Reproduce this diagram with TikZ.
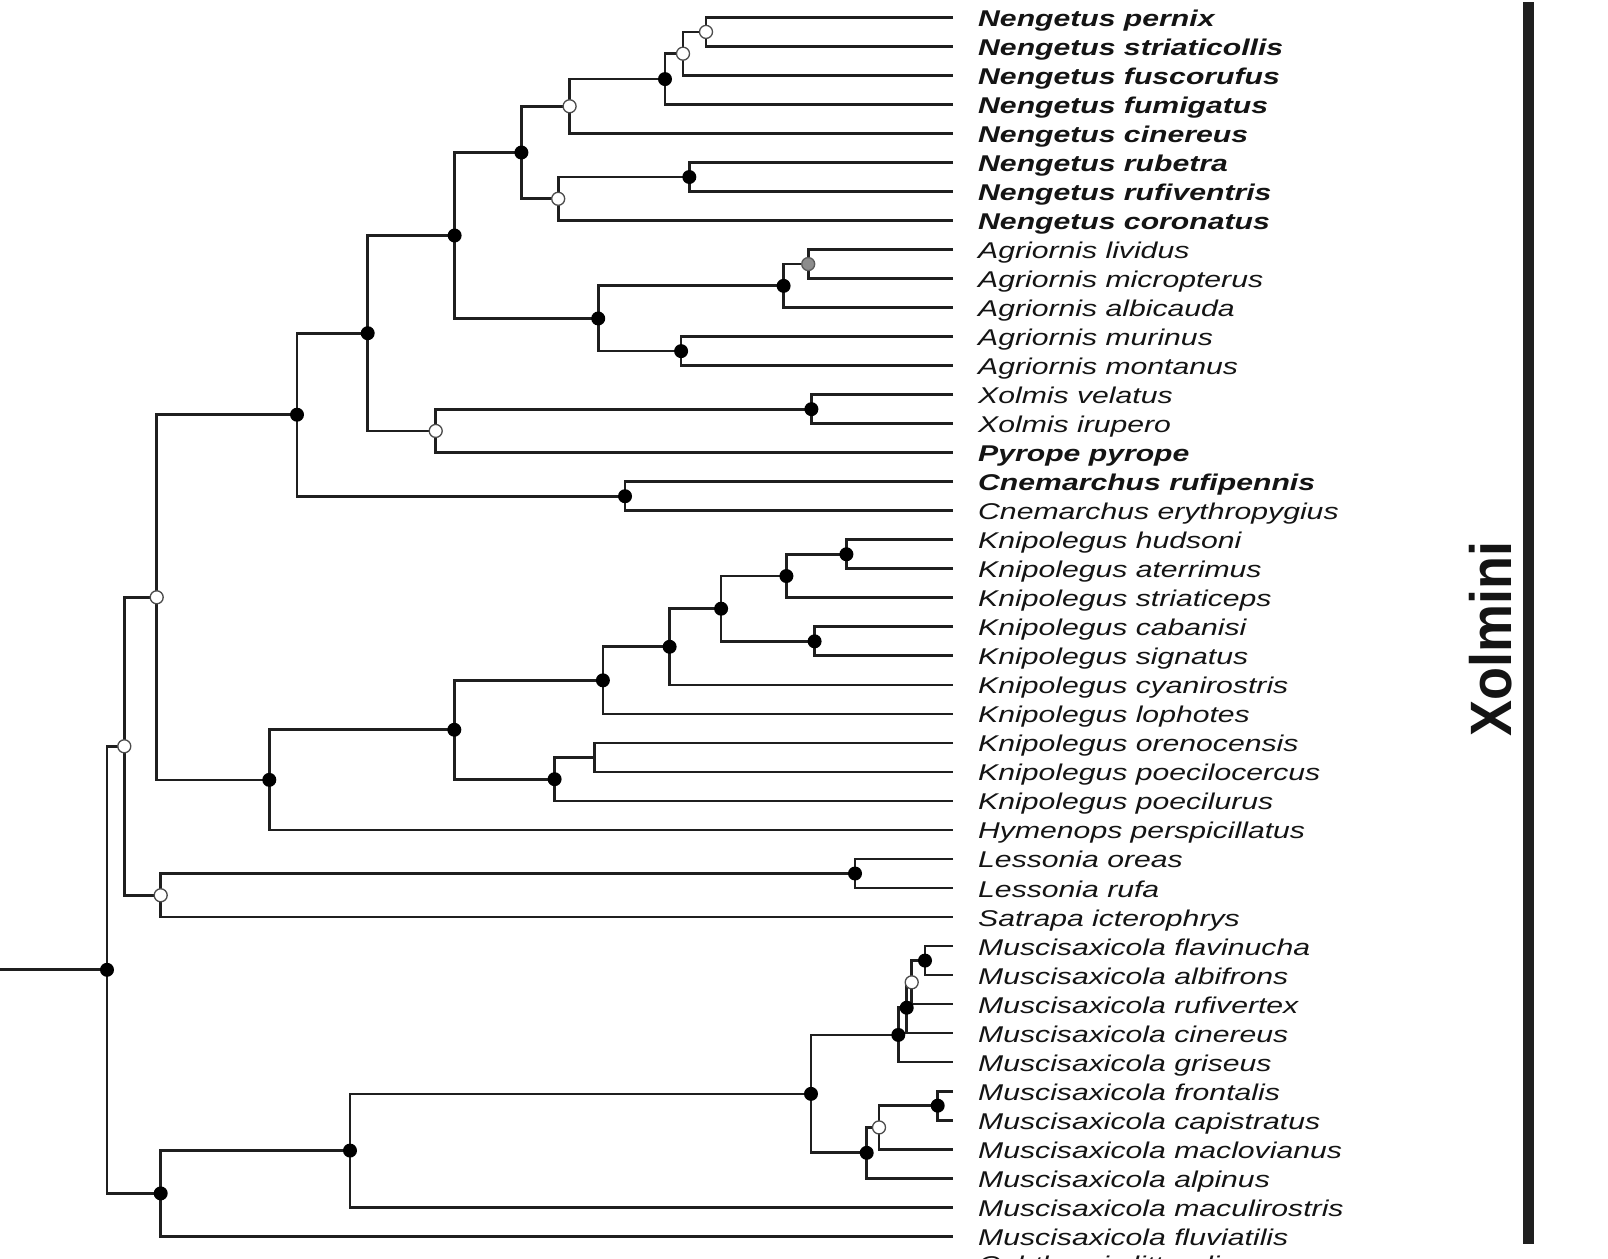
\documentclass[tikz,border=0pt]{standalone}
\usepackage{fontspec}
\setmainfont{Liberation Sans}
\usepackage{graphicx}
\usetikzlibrary{calc}
\newcommand\stretchtxt[1]{\scalebox{1.323}[1]{#1}}
\begin{document}
\begin{tikzpicture}[x=1pt,y=-1pt,
  branch/.style={draw=black!88, line width=2.7pt},
  fdot/.style={circle, fill=black, inner sep=0pt, minimum size=14pt},
  odot/.style={circle, fill=white, draw=black!70, line width=1.3pt, inner sep=0pt, minimum size=13pt},
  gdot/.style={circle, fill=black!45, draw=black!65, line width=1.3pt, inner sep=0pt, minimum size=13pt},
  leaf/.style={anchor=base west, inner sep=0pt, text=black!92, font=\fontsize{22.8}{22.8}\selectfont\itshape},
  leafb/.style={leaf, font=\fontsize{22.8}{22.8}\selectfont\bfseries\itshape},
  cladebar/.style={draw=black!88, line width=11pt},
  cladelab/.style={rotate=90, inner sep=0pt, text=black!92, font=\fontsize{54}{54}\selectfont\bfseries}
]
\useasboundingbox[fill=white] (0,0) rectangle (1608,1258);

% leaf tips
\foreach \i in {1,...,44} \coordinate (l\i) at (953,{17.4+29.02*(\i-1)});

% internal nodes
\coordinate (n1) at (706,31.91);
\coordinate (n2) at (683,53.68);
\coordinate (n3) at (665,79.07);
\coordinate (n4) at (569.6,106.27);
\coordinate (n5) at (689.3,177.01);
\coordinate (n6) at (558.2,198.78);
\coordinate (n7) at (521.4,152.52);
\coordinate (ag1) at (808.2,264.07);
\coordinate (ag2) at (783.6,285.84);
\coordinate (ag3) at (681.1,351.13);
\coordinate (ag4) at (598.2,318.48);
\coordinate (n8) at (454.6,235.5);
\coordinate (xo1) at (811.4,409.17);
\coordinate (xo2) at (435.7,430.94);
\coordinate (tA) at (367.7,333.22);
\coordinate (cn) at (625,496.23);
\coordinate (tB) at (297,414.72);
\coordinate (khud) at (846.4,554.27);
\coordinate (kstr) at (786.4,576.04);
\coordinate (kcab) at (814.6,641.33);
\coordinate (k2) at (721.1,608.68);
\coordinate (k3) at (669.6,646.77);
\coordinate (k4) at (602.9,680.32);
\coordinate (kore) at (594.6,757.41);
\coordinate (k6) at (554.6,779.17);
\coordinate (kn) at (454.3,729.75);
\coordinate (kh) at (269.3,779.85);
\coordinate (tC) at (156.7,597.29);
\coordinate (les) at (855,873.49);
\coordinate (ls) at (160.7,895.26);
\coordinate (tD) at (124.3,746.27);
\coordinate (mA) at (925,960.55);
\coordinate (mB) at (911.7,982.32);
\coordinate (mC) at (906.7,1007.71);
\coordinate (mD) at (898.3,1034.92);
\coordinate (mE) at (937.7,1105.65);
\coordinate (mF) at (879,1127.42);
\coordinate (mG) at (866.7,1152.81);
\coordinate (mH) at (811,1093.87);
\coordinate (mI) at (350,1150.55);
\coordinate (mJ) at (160.7,1193.4);
\coordinate (root) at (107,969.8);
\coordinate (stub) at (0,969.8);

% branches
\path[branch]
  (l1) -| (n1) |- (l2)
  (n1) -| (n2) |- (l3)
  (n2) -| (n3) |- (l4)
  (n3) -| (n4) |- (l5)
  (l6) -| (n5) |- (l7)
  (n5) -| (n6) |- (l8)
  (n4) -| (n7) |- (n6)
  (l9) -| (ag1) |- (l10)
  (ag1) -| (ag2) |- (l11)
  (l12) -| (ag3) |- (l13)
  (ag2) -| (ag4) |- (ag3)
  (n7) -| (n8) |- (ag4)
  (l14) -| (xo1) |- (l15)
  (xo1) -| (xo2) |- (l16)
  (n8) -| (tA) |- (xo2)
  (l17) -| (cn) |- (l18)
  (tA) -| (tB) |- (cn)
  (l19) -| (khud) |- (l20)
  (khud) -| (kstr) |- (l21)
  (l22) -| (kcab) |- (l23)
  (kstr) -| (k2) |- (kcab)
  (k2) -| (k3) |- (l24)
  (k3) -| (k4) |- (l25)
  (l26) -| (kore) |- (l27)
  (kore) -| (k6) |- (l28)
  (k4) -| (kn) |- (k6)
  (kn) -| (kh) |- (l29)
  (tB) -| (tC) |- (kh)
  (l30) -| (les) |- (l31)
  (les) -| (ls) |- (l32)
  (tC) -| (tD) |- (ls)
  (l33) -| (mA) |- (l34)
  (mA) -| (mB) |- (l35)
  (mB) -| (mC) |- (l36)
  (mC) -| (mD) |- (l37)
  (l38) -| (mE) |- (l39)
  (mE) -| (mF) |- (l40)
  (mF) -| (mG) |- (l41)
  (mD) -| (mH) |- (mG)
  (mH) -| (mI) |- (l42)
  (mI) -| (mJ) |- (l43)
  (tD) -| (root) |- (mJ)
  (root) -- (stub);

% support markers
\foreach \c in {n3,n5,n7,n8,ag2,ag3,ag4,xo1,tA,cn,tB,khud,kstr,kcab,k2,k3,k4,k6,kn,kh,les,mA,mC,mD,mE,mG,mH,mI,mJ,root}
  \node[fdot] (m-\c) at (\c) {};
\foreach \c in {n1,n2,n4,n6,xo2,tC,ls,tD,mB,mF}
  \node[odot] (m-\c) at (\c) {};
\node[gdot] (m-ag1) at (ag1) {};

% taxon labels
\node[leafb] (lab1) at ($(l1)+(25,9)$) {\stretchtxt{Nengetus pernix}};
\node[leafb] (lab2) at ($(l2)+(25,9)$) {\stretchtxt{Nengetus striaticollis}};
\node[leafb] (lab3) at ($(l3)+(25,9)$) {\stretchtxt{Nengetus fuscorufus}};
\node[leafb] (lab4) at ($(l4)+(25,9)$) {\stretchtxt{Nengetus fumigatus}};
\node[leafb] (lab5) at ($(l5)+(25,9)$) {\stretchtxt{Nengetus cinereus}};
\node[leafb] (lab6) at ($(l6)+(25,9)$) {\stretchtxt{Nengetus rubetra}};
\node[leafb] (lab7) at ($(l7)+(25,9)$) {\stretchtxt{Nengetus rufiventris}};
\node[leafb] (lab8) at ($(l8)+(25,9)$) {\stretchtxt{Nengetus coronatus}};
\node[leaf] (lab9) at ($(l9)+(25,9)$) {\stretchtxt{Agriornis lividus}};
\node[leaf] (lab10) at ($(l10)+(25,9)$) {\stretchtxt{Agriornis micropterus}};
\node[leaf] (lab11) at ($(l11)+(25,9)$) {\stretchtxt{Agriornis albicauda}};
\node[leaf] (lab12) at ($(l12)+(25,9)$) {\stretchtxt{Agriornis murinus}};
\node[leaf] (lab13) at ($(l13)+(25,9)$) {\stretchtxt{Agriornis montanus}};
\node[leaf] (lab14) at ($(l14)+(25,9)$) {\stretchtxt{Xolmis velatus}};
\node[leaf] (lab15) at ($(l15)+(25,9)$) {\stretchtxt{Xolmis irupero}};
\node[leafb] (lab16) at ($(l16)+(25,9)$) {\stretchtxt{Pyrope pyrope}};
\node[leafb] (lab17) at ($(l17)+(25,9)$) {\stretchtxt{Cnemarchus rufipennis}};
\node[leaf] (lab18) at ($(l18)+(25,9)$) {\stretchtxt{Cnemarchus erythropygius}};
\node[leaf] (lab19) at ($(l19)+(25,9)$) {\stretchtxt{Knipolegus hudsoni}};
\node[leaf] (lab20) at ($(l20)+(25,9)$) {\stretchtxt{Knipolegus aterrimus}};
\node[leaf] (lab21) at ($(l21)+(25,9)$) {\stretchtxt{Knipolegus striaticeps}};
\node[leaf] (lab22) at ($(l22)+(25,9)$) {\stretchtxt{Knipolegus cabanisi}};
\node[leaf] (lab23) at ($(l23)+(25,9)$) {\stretchtxt{Knipolegus signatus}};
\node[leaf] (lab24) at ($(l24)+(25,9)$) {\stretchtxt{Knipolegus cyanirostris}};
\node[leaf] (lab25) at ($(l25)+(25,9)$) {\stretchtxt{Knipolegus lophotes}};
\node[leaf] (lab26) at ($(l26)+(25,9)$) {\stretchtxt{Knipolegus orenocensis}};
\node[leaf] (lab27) at ($(l27)+(25,9)$) {\stretchtxt{Knipolegus poecilocercus}};
\node[leaf] (lab28) at ($(l28)+(25,9)$) {\stretchtxt{Knipolegus poecilurus}};
\node[leaf] (lab29) at ($(l29)+(25,9)$) {\stretchtxt{Hymenops perspicillatus}};
\node[leaf] (lab30) at ($(l30)+(25,9)$) {\stretchtxt{Lessonia oreas}};
\node[leaf] (lab31) at ($(l31)+(25,9)$) {\stretchtxt{Lessonia rufa}};
\node[leaf] (lab32) at ($(l32)+(25,9)$) {\stretchtxt{Satrapa icterophrys}};
\node[leaf] (lab33) at ($(l33)+(25,9)$) {\stretchtxt{Muscisaxicola flavinucha}};
\node[leaf] (lab34) at ($(l34)+(25,9)$) {\stretchtxt{Muscisaxicola albifrons}};
\node[leaf] (lab35) at ($(l35)+(25,9)$) {\stretchtxt{Muscisaxicola rufivertex}};
\node[leaf] (lab36) at ($(l36)+(25,9)$) {\stretchtxt{Muscisaxicola cinereus}};
\node[leaf] (lab37) at ($(l37)+(25,9)$) {\stretchtxt{Muscisaxicola griseus}};
\node[leaf] (lab38) at ($(l38)+(25,9)$) {\stretchtxt{Muscisaxicola frontalis}};
\node[leaf] (lab39) at ($(l39)+(25,9)$) {\stretchtxt{Muscisaxicola capistratus}};
\node[leaf] (lab40) at ($(l40)+(25,9)$) {\stretchtxt{Muscisaxicola maclovianus}};
\node[leaf] (lab41) at ($(l41)+(25,9)$) {\stretchtxt{Muscisaxicola alpinus}};
\node[leaf] (lab42) at ($(l42)+(25,9)$) {\stretchtxt{Muscisaxicola maculirostris}};
\node[leaf] (lab43) at ($(l43)+(25,9)$) {\stretchtxt{Muscisaxicola fluviatilis}};
\node[leaf] (lab44) at ($(l44)+(25,7)$) {\stretchtxt{Ochthornis littoralis}};

% clade bar
\coordinate (barTop) at (1528,2);
\coordinate (barBot) at (1528,1244);
\draw[cladebar] (barTop) -- (barBot);
\node[cladelab] (xolmini) at (1491,639) {\scalebox{1}[1.08]{Xolmini}};
\end{tikzpicture}
\end{document}
